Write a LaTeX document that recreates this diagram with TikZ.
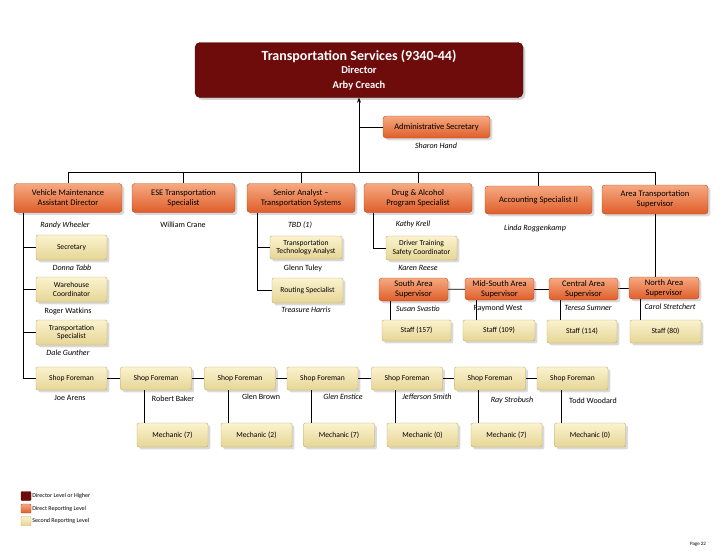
\documentclass[tikz,border=0pt]{standalone}
\usepackage{fontspec}
\setmainfont{Carlito}
\usetikzlibrary{arrows.meta,shadows}

\definecolor{dirred}{HTML}{6E0C0C}
\definecolor{dirline}{HTML}{4A0606}
\definecolor{orgtop}{HTML}{F6A981}
\definecolor{orgbot}{HTML}{DF5E2A}
\definecolor{orgline}{HTML}{B8481E}
\definecolor{tantop}{HTML}{FBF3CF}
\definecolor{tanbot}{HTML}{E6D595}
\definecolor{tanline}{HTML}{BFA862}

\begin{document}
\begin{tikzpicture}[x=1pt,y=-1pt,
    director/.style={rectangle,rounded corners=5pt,draw=dirline,fill=dirred,text=white,align=center,minimum width=328pt,minimum height=55pt,inner sep=1pt,drop shadow={opacity=0.35}},
    direct/.style={rectangle,rounded corners=3pt,draw=orgline,top color=orgtop,bottom color=orgbot,align=center,inner sep=1pt,font=\fontsize{8.5}{10}\selectfont,drop shadow={opacity=0.3}},
    second/.style={rectangle,rounded corners=2pt,draw=tanline,top color=tantop,bottom color=tanbot,align=center,inner sep=1pt,font=\fontsize{7.6}{8.6}\selectfont,drop shadow={opacity=0.3}},
    person/.style={font=\fontsize{8}{9}\selectfont\itshape},
    plain/.style={font=\fontsize{8}{9}\selectfont},
    legend/.style={rectangle,rounded corners=1pt,minimum width=10pt,minimum height=9pt,inner sep=0pt},
    legtext/.style={anchor=west,font=\fontsize{6}{7}\selectfont,inner sep=1pt},
    wire/.style={line width=0.6pt}]
  \useasboundingbox (0,0) rectangle (720,554);

  % director
  \node[director] (title) at (359,70) {{\fontsize{14}{15}\selectfont\bfseries Transportation Services (9340-44)}\\[1pt]
    {\fontsize{10.5}{12}\selectfont\bfseries Director}\\[3pt]{\fontsize{10.5}{12}\selectfont\bfseries Arby Creach}};
  \node[direct,minimum width=107pt,minimum height=22pt] (admin) at (436.5,127) {Administrative Secretary};
  \node[person] (adminname) at (436,146) {Sharon Hand};
  \coordinate (hub) at (359,172);

  % direct reports
  \node[direct,minimum width=108pt,minimum height=29pt] (vm) at (68,198) {Vehicle Maintenance\\Assistant Director};
  \node[direct,minimum width=103pt,minimum height=29pt] (ese) at (183.5,198) {ESE Transportation\\Specialist};
  \node[direct,minimum width=108pt,minimum height=29pt] (sa) at (301,198) {Senior Analyst --\\Transportation Systems};
  \node[direct,minimum width=108pt,minimum height=29pt] (da) at (418,198) {Drug \& Alcohol\\Program Specialist};
  \node[direct,minimum width=107pt,minimum height=28pt] (acct) at (538.5,200) {Accounting Specialist II};
  \node[direct,minimum width=106pt,minimum height=29pt] (ats) at (655,199.5) {Area Transportation\\Supervisor};

  \node[person] (vmname) at (65,225) {Randy Wheeler};
  \node[plain] (esename) at (183,225) {William Crane};
  \node[person] (saname) at (300,225) {TBD (1)};
  \node[person] (daname) at (413,224) {Kathy Krell};
  \node[person] (acctname) at (535,228) {Linda Roggenkamp};

  % vehicle maintenance staff
  \node[second,minimum width=71pt,minimum height=25pt] (sec) at (71.5,247.5) {Secretary};
  \node[person] (secname) at (72,268) {Donna Tabb};
  \node[second,minimum width=71pt,minimum height=25pt] (wh) at (71.5,289.5) {Warehouse\\Coordinator};
  \node[plain] (whname) at (68,311) {Roger Watkins};
  \node[second,minimum width=71pt,minimum height=25pt] (ts) at (71.5,332.5) {Transportation\\Specialist};
  \node[person] (tsname) at (68,353) {Dale Gunther};

  % senior analyst and drug & alcohol staff
  \node[second,minimum width=72pt,minimum height=23pt] (tta) at (306,247.5) {Transportation\\Technology Analyst};
  \node[plain] (ttaname) at (303,268) {Glenn Tuley};
  \node[second,minimum width=71pt,minimum height=25pt] (rs) at (307.5,290.5) {Routing Specialist};
  \node[person] (rsname) at (306,310) {Treasure Harris};
  \node[second,minimum width=71pt,minimum height=24pt] (dt) at (421.5,248) {Driver Training\\Safety Coordinator};
  \node[person] (dtname) at (418,268) {Karen Reese};

  % area supervisors
  \node[direct,minimum width=69pt,minimum height=23pt] (south) at (413.5,289.5) {South Area\\Supervisor};
  \node[direct,minimum width=69pt,minimum height=22pt] (midsouth) at (499.5,289) {Mid-South Area\\Supervisor};
  \node[direct,minimum width=69pt,minimum height=22pt] (central) at (583.5,289) {Central Area\\Supervisor};
  \node[direct,minimum width=70pt,minimum height=22pt] (north) at (664,288) {North Area\\Supervisor};
  \node[person] (southname) at (418,309) {Susan Svastio};
  \node[plain] (midsouthname) at (498,308) {Raymond West};
  \node[person] (centralname) at (588,308) {Teresa Sumner};
  \node[person] (northname) at (670,307) {Carol Stretchert};

  \node[second,minimum width=69pt,minimum height=21pt] (s157) at (416.5,330.5) {Staff (157)};
  \node[second,minimum width=72pt,minimum height=21pt] (s109) at (499,330.5) {Staff (109)};
  \node[second,minimum width=70pt,minimum height=23pt] (s114) at (582,331.5) {Staff (114)};
  \node[second,minimum width=71pt,minimum height=23pt] (s80) at (665.5,331.5) {Staff (80)};

  % shop foremen and mechanics
  \foreach \i/\x in {1/71.5,2/156,3/240,4/322.5,5/407,6/490,7/572.5}
    \node[second,minimum width=71pt,minimum height=23pt] (sf\i) at (\x,378.5) {Shop Foreman};
  \node[plain] (sfname1) at (70,398) {Joe Arens};
  \node[plain] (sfname2) at (173,399) {Robert Baker};
  \node[plain] (sfname3) at (261,397) {Glen Brown};
  \node[person] (sfname4) at (343,397) {Glen Enstice};
  \node[person] (sfname5) at (427,397) {Jefferson Smith};
  \node[person] (sfname6) at (512,400) {Ray Strobush};
  \node[plain] (sfname7) at (593,401) {Todd Woodard};

  \foreach \i/\x/\n in {2/172.5/7,3/256.5/2,4/339/7,5/422.5/0,6/506.5/7,7/590/0}
    \node[second,minimum width=71pt,minimum height=24pt] (mech\i) at (\x,435) {Mechanic (\n)};

  % connectors
  \draw[wire,-{Stealth[length=5pt,width=4pt]}] (hub) -- (title.south);
  \draw[wire] (admin.west) -- (title.south |- admin.west);
  \foreach \b in {vm,ese,sa,da,acct,ats}
    \draw[wire] (hub) -| (\b.north);

  \foreach \b in {sec,wh,ts,sf1}
    \draw[wire] ([xshift=9pt]vm.south west) |- (\b.west);
  \foreach \b in {tta,rs}
    \draw[wire] ([xshift=10pt]sa.south west) |- (\b.west);
  \draw[wire] ([xshift=9pt]da.south west) |- (dt.west);

  \draw[wire] (ats.south) -- (ats.south |- north.north);
  \draw[wire] (north) -- (central);
  \draw[wire] (central) -- (midsouth);
  \draw[wire] (midsouth) -- (south);
  \foreach \a/\s in {south/s157,midsouth/s109,central/s114,north/s80}
    \draw[wire] ([xshift=11pt]\a.south west) -- ([xshift=11pt]\a.south west |- \s.north);

  \foreach \i [evaluate=\i as \j using int(\i+1)] in {1,...,6}
    \draw[wire] (sf\i) -- (sf\j);
  \foreach \i in {2,...,7}
    \draw[wire] ([xshift=24pt]sf\i.south west) -- ([xshift=24pt]sf\i.south west |- mech\i.north);

  % legend
  \node[legend,fill=dirred,draw=dirline] (leg1) at (26,496) {};
  \node[legend,top color=orgtop,bottom color=orgbot,draw=orgline] (leg2) at (26,508.5) {};
  \node[legend,top color=tantop,bottom color=tanbot,draw=tanline] (leg3) at (26,521) {};
  \node[legtext] (legtext1) at (leg1.east) {Director Level or Higher};
  \node[legtext] (legtext2) at (leg2.east) {Direct Reporting Level};
  \node[legtext] (legtext3) at (leg3.east) {Second Reporting Level};

  \node[font=\fontsize{5}{6}\selectfont] (page) at (698,544) {Page 22};
\end{tikzpicture}
\end{document}
